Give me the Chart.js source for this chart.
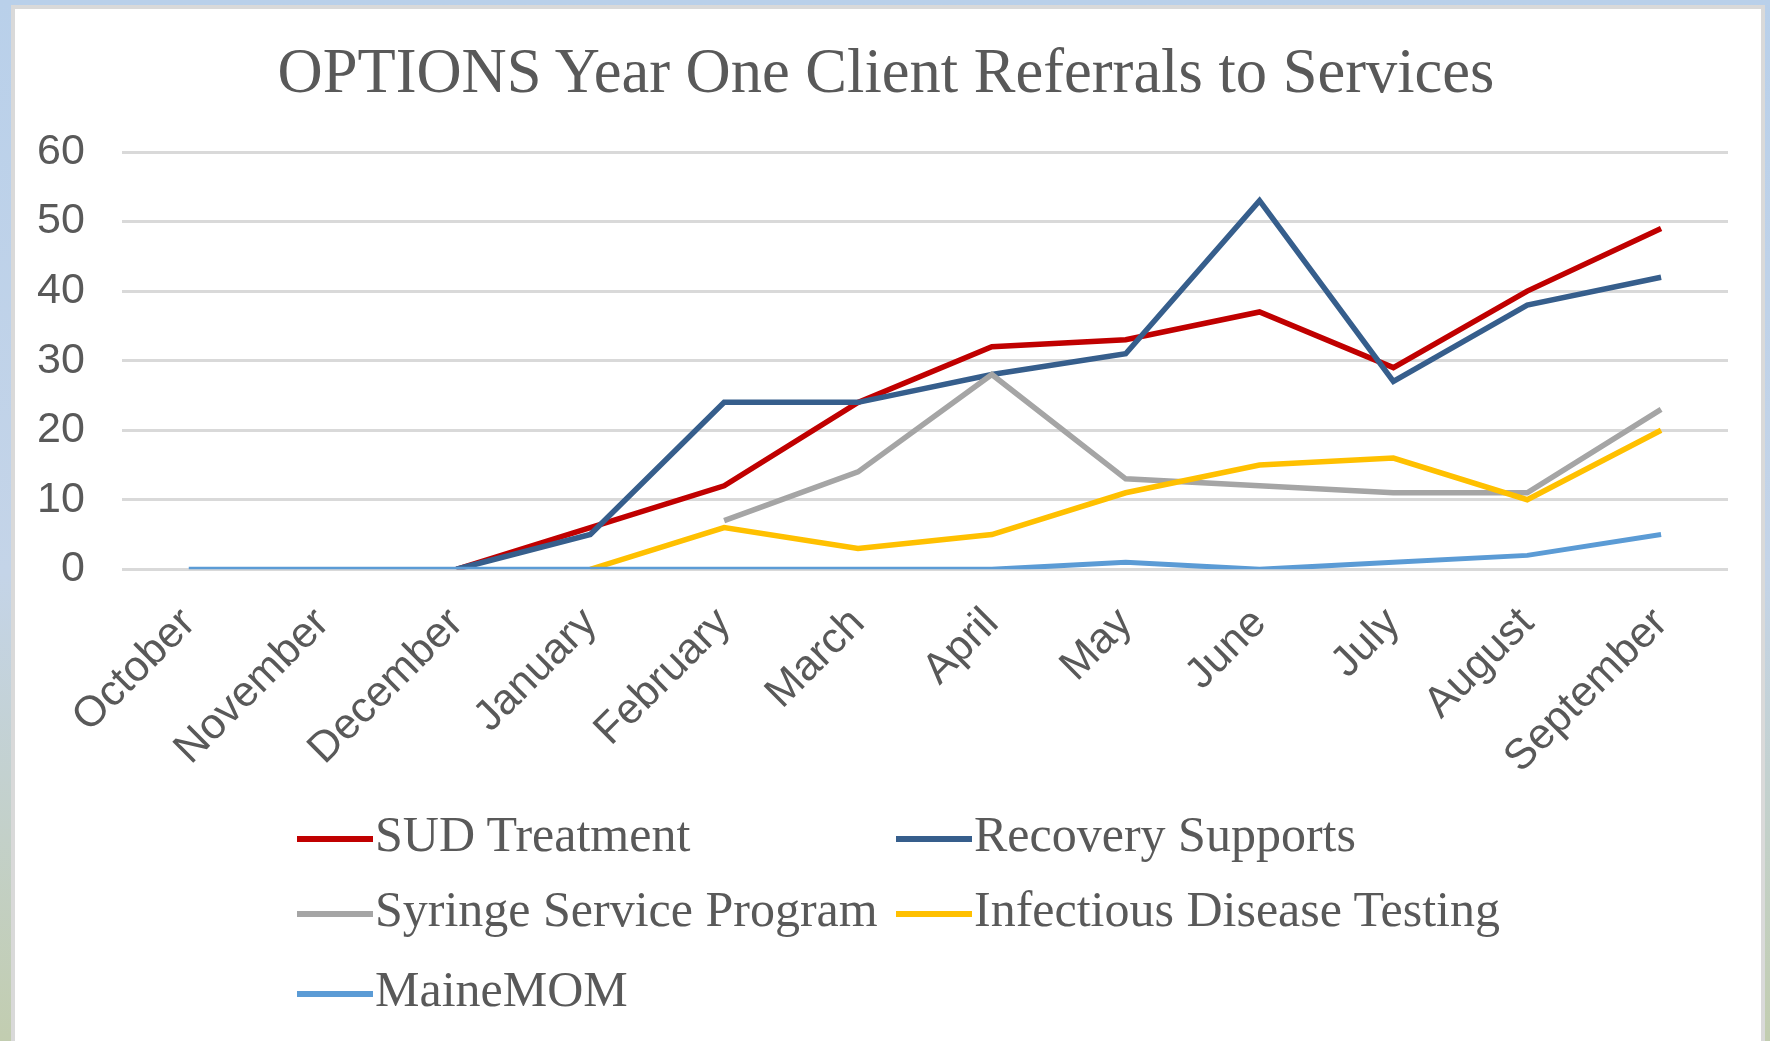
<!DOCTYPE html>
<html>
<head>
<meta charset="utf-8">
<script src="https://cdn.jsdelivr.net/npm/chart.js@4.4.1/dist/chart.umd.min.js"></script>
<style>
  html, body { margin:0; padding:0; }
  body {
    width:1770px; height:1041px; overflow:hidden; position:relative;
    background: linear-gradient(to bottom, #b9d0ea 0%, #c4d4e8 55%, #c2cdb0 100%);
  }
  #card {
    position:absolute; left:11px; top:5px; width:1746px; height:1100px;
    border:4px solid #d9d9d9; background:#fff;
  }
  #chart { position:absolute; left:0; top:0; }
  #title {
    position:absolute; left:886px; top:40px; transform:translateX(-50%);
    font-family:"Liberation Serif", serif; font-size:62.5px; line-height:1;
    color:#595959; white-space:nowrap;
  }
  #legend { position:absolute; left:0; top:0; }
  .item {
    position:absolute; display:flex; align-items:center;
    font-family:"Liberation Serif", serif; font-size:50px; color:#595959;
    white-space:nowrap; line-height:1;
  }
  .swatch { width:76px; height:6px; margin-right:2px; margin-top:10px; }
</style>
</head>
<body>
<div id="card"></div>
<canvas id="chart" width="1770" height="1041"></canvas>
<div id="title">OPTIONS Year One Client Referrals to Services</div>
<div id="legend"></div>
<script>
const months = ["October","November","December","January","February","March",
                "April","May","June","July","August","September"];

const sudTreatment      = [null,null,0,6,12,24,32,33,37,29,40,49];
const recoverySupports  = [null,null,0,5,24,24,28,31,53,27,38,42];
const syringeService    = [null,null,null,null,7,14,28,13,12,11,11,23];
const infectiousTesting = [null,null,null,0,6,3,5,11,15,16,10,20];
const maineMom          = [0,0,0,0,0,0,0,1,0,1,2,5];

const seriesNames  = ["SUD Treatment","Recovery Supports","Syringe Service Program",
                      "Infectious Disease Testing","MaineMOM"];
const seriesColors = ["#c00000","#365e8c","#a5a5a5","#ffc000","#5b9bd5"];
const seriesData   = [sudTreatment, recoverySupports, syringeService, infectiousTesting, maineMom];

const yTicks = [0,10,20,30,40,50,60];

const datasets = seriesData.map((d,i)=>({
  label: seriesNames[i],
  data: d,
  borderColor: seriesColors[i],
  backgroundColor: seriesColors[i],
  borderWidth: i===4 ? 5 : 5.5,
  pointRadius: 0,
  tension: 0,
  spanGaps: false,
  order: 5-i          // later series drawn on top, like Excel
}));

new Chart(document.getElementById("chart"),{
  type:"line",
  data:{ labels: months, datasets },
  options:{
    responsive:false,
    animation:false,
    layout:{ padding:{ top:152, left:0, right:42, bottom:228.5 } },
    plugins:{
      legend:{ display:false },
      tooltip:{ enabled:false },
      title:{ display:false }
    },
    scales:{
      x:{
        offset:true,
        grid:{ display:false, drawTicks:false },
        border:{ display:false },
        ticks:{
          color:"#595959",
          font:{ family:"Liberation Sans", size:43 },
          minRotation:45, maxRotation:45,
          padding:29,
          autoSkip:false
        }
      },
      y:{
        min:yTicks[0], max:yTicks[yTicks.length-1],
        afterBuildTicks: s => { s.ticks = yTicks.map(v=>({value:v})); },
        grid:{ color:"#d9d9d9", lineWidth:3, drawTicks:false },
        border:{ display:false },
        ticks:{
          color:"#595959",
          font:{ family:"Liberation Sans", size:43 },
          padding:37
        }
      }
    }
  }
});

/* legend: two columns, like the original */
const legend = document.getElementById("legend");
const colX = [297, 896], rowY = [809, 884, 964];
seriesNames.forEach((name,i)=>{
  const el = document.createElement("div");
  el.className = "item";
  el.style.left = colX[i%2]+"px";
  el.style.top = rowY[Math.floor(i/2)]+"px";
  el.innerHTML = `<span class="swatch" style="background:${seriesColors[i]}"></span><span>${name}</span>`;
  legend.appendChild(el);
});
</script>
</body>
</html>
